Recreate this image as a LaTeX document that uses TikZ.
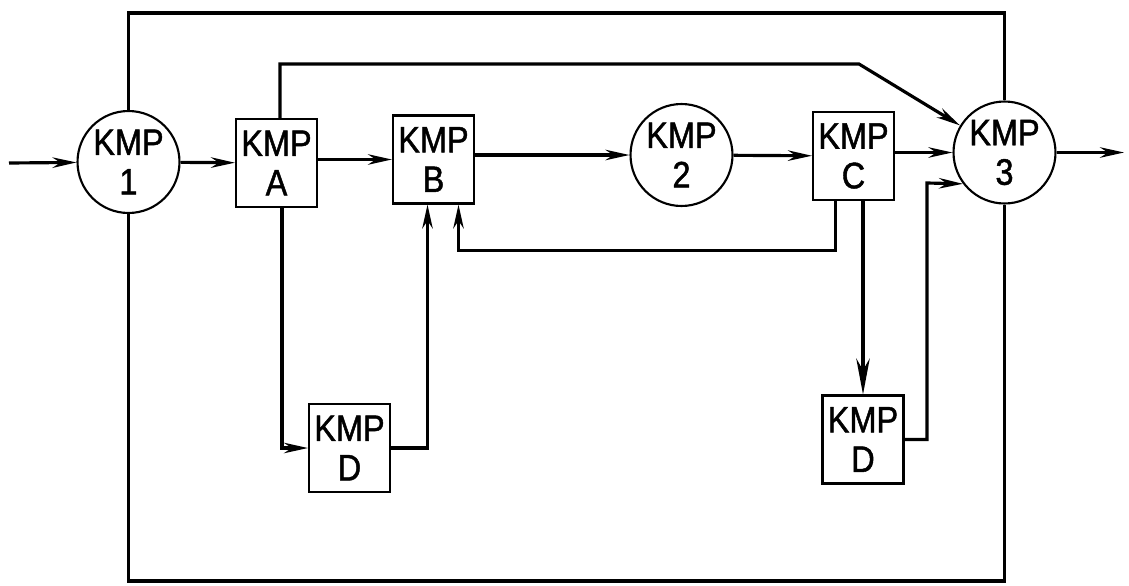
\documentclass[tikz,border=0pt]{standalone}
\usepackage{fontspec}
\newfontfamily\kmpfont{Liberation Sans}[FakeStretch=0.88,FakeBold=1.2]
\usepackage{tikz}
\usetikzlibrary{arrows.meta,positioning,calc}

\begin{document}
\begin{tikzpicture}[x=0.02cm,y=-0.02cm,
    kmpcircle/.style={draw,circle,line width=1.2pt,minimum size=2.04cm,inner sep=0pt,align=center,font=\kmpfont\fontsize{21}{22.5}\selectfont},
    kmpbox/.style={draw,rectangle,line width=1.2pt,minimum width=1.62cm,minimum height=1.76cm,inner sep=0pt,align=center,font=\kmpfont\fontsize{21}{22.5}\selectfont},
    wire/.style={line width=1.8pt},
    flow/.style={wire,-{Stealth[length=0.48cm,width=0.21cm]}}]
        \useasboundingbox (0,0) rectangle (1129,585);
        \node[kmpcircle] (kmp1) at (128.5,162) {KMP\\1};
        \node[kmpbox] (kmpA) at (276.5,163) {KMP\\A};
        \node[kmpbox] (kmpB) at (433.5,159.5) {KMP\\B};
        \node[kmpcircle] (kmp2) at (681.5,155) {KMP\\2};
        \node[kmpbox] (kmpC) at (853.5,156) {KMP\\C};
        \node[kmpcircle] (kmp3) at (1004.5,152.5) {KMP\\3};
        \node[kmpbox] (kmpD1) at (349.5,448) {KMP\\D};
        \node[kmpbox] (kmpD2) at (863,439.5) {KMP\\D};
        \coordinate (in) at (9,163);
        \coordinate (out) at (1124,152.5);
        \coordinate (loopT) at (0,13);
        \coordinate (loopB) at (0,581);
        \coordinate (bend) at (859,64);
        \coordinate (fbB) at ($(kmpB.south)+(25,46)$);
        \coordinate (d2up) at (927,183);
        \draw[wire] (kmp1.north) |- (loopT -| kmp3.north) -- (kmp3.north);
        \draw[wire] (kmp1.south) |- (loopB -| kmp3.south) -- (kmp3.south);
        \draw[flow] (in) -- (kmp1);
        \draw[flow] (kmp1) -- (kmpA);
        \draw[flow] (kmpA.east |- kmpB) -- (kmpB);
        \draw[flow] (kmpB.east |- kmp2) -- (kmp2);
        \draw[flow] (kmp2) -- (kmpC);
        \draw[flow] (kmpC.east |- kmp3) -- (kmp3);
        \draw[flow] (kmp3) -- (out);
        \draw[flow] ([xshift=0.07cm]kmpA.north) |- (bend) -- (kmp3);
        \draw[flow] ([xshift=0.11cm]kmpA.south) |- (kmpD1.west);
        \draw[flow] (kmpD1.east) -| ([xshift=-0.12cm]kmpB.south);
        \draw[flow] ([xshift=-0.36cm]kmpC.south) |- (fbB) -- (fbB |- kmpB.south);
        \draw[wire,-{Stealth[length=0.72cm,width=0.27cm]}] (kmpD2.north |- kmpC.south) -- (kmpD2.north);
        \draw[flow] (kmpD2.east) -| (d2up) -- (kmp3.217);
      \end{tikzpicture}
\end{document}
